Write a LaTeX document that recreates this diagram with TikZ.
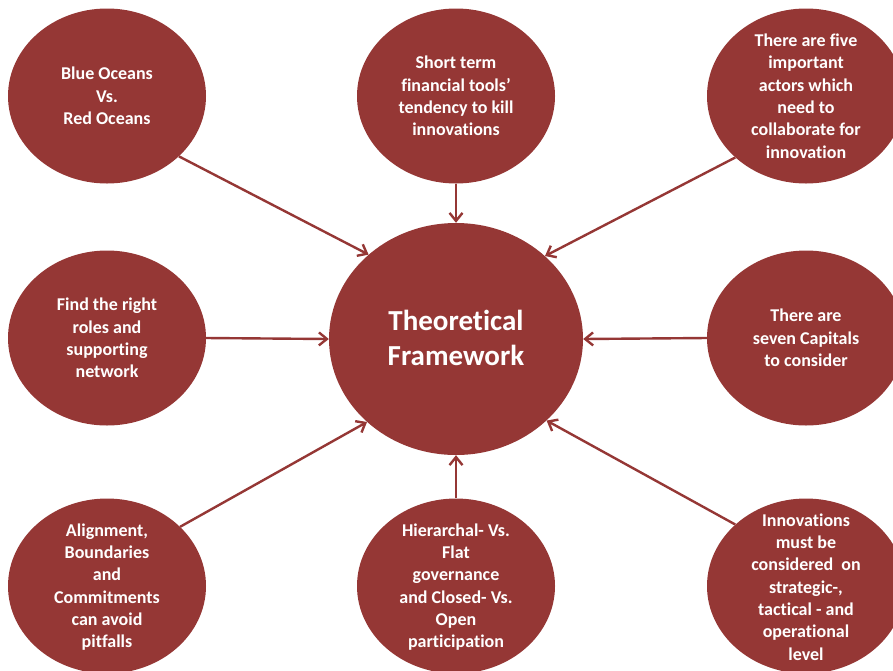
\documentclass[tikz,border=0pt]{standalone}
\usepackage{fontspec}
\setmainfont{Carlito}[Ligatures=NoCommon]
\usetikzlibrary{shapes.geometric,arrows.meta}
\definecolor{bubblered}{HTML}{953735}
\tikzset{
  bubble/.style={ellipse, fill=bubblered, draw=none, inner sep=0pt,
    minimum width=198pt, minimum height=175pt},
  hub/.style={ellipse, fill=bubblered, draw=none, inner sep=0pt,
    minimum width=254pt, minimum height=232pt},
  txt/.style={text=white, align=center, inner sep=0pt,
    font=\bfseries\fontsize{18}{22.3}\selectfont},
  hubtxt/.style={text=white, align=center, inner sep=0pt,
    font=\bfseries\fontsize{29}{35}\selectfont},
  link/.style={draw=bubblered, line width=2.4pt,
    -{Straight Barb[length=8pt,width=13pt,line width=2.4pt]}}
}
\begin{document}
\begin{tikzpicture}[x=1pt,y=-1pt]
\useasboundingbox (0,0) rectangle (893,670);

% ellipses
\node[hub]    (hub) at (456,339) {};
\node[bubble] (tl)  at (107,96)  {};
\node[bubble] (tc)  at (456,96)  {};
\node[bubble] (tr)  at (806,96)  {};
\node[bubble] (ml)  at (107,338) {};
\node[bubble] (mr)  at (806,338) {};
\node[bubble] (bl)  at (107,586) {};
\node[bubble] (bc)  at (456,586) {};
\node[bubble] (br)  at (806,586) {};

% texts
\node[hubtxt] (hubt) at (456,338) {Theoretical\\Framework};
\node[txt] (tlt) at (107,96) {Blue Oceans\\Vs.\\Red Oceans};
\node[txt] (tct) at (456,96) {Short term\\financial tools’\\tendency to kill\\innovations};
\node[txt] (trt) at (806,96) {There are five\\important\\actors which\\need to\\collaborate for\\innovation};
\node[txt] (mlt) at (107,338) {Find the right\\roles and\\supporting\\network};
\node[txt] (mrt) at (806,338) {There are\\seven Capitals\\to consider};
\node[txt] (blt) at (107,587) {Alignment,\\Boundaries\\and\\Commitments\\can avoid\\pitfalls};
\node[txt] (bct) at (456,587) {Hierarchal- Vs.\\Flat\\governance\\and Closed- Vs.\\Open\\participation};
\node[txt] (brt) at (806,587) {Innovations\\must be\\considered\ \ on\\strategic-,\\tactical - and\\operational\\level};

% connectors
\draw[link] (tl.-40.7)   -- (hub.136.7);
\draw[link] (tc.south)   -- (hub.north);
\draw[link] (tr.-139.3)  -- (hub.43.3);
\draw[link] (ml.east)    -- (hub.west);
\draw[link] (mr.west)    -- (hub.east);
\draw[link] (bl.39.9)    -- (hub.-137.7);
\draw[link] (bc.north)   -- (hub.south);
\draw[link] (br.139.3)   -- (hub.-42);
\end{tikzpicture}
\end{document}
